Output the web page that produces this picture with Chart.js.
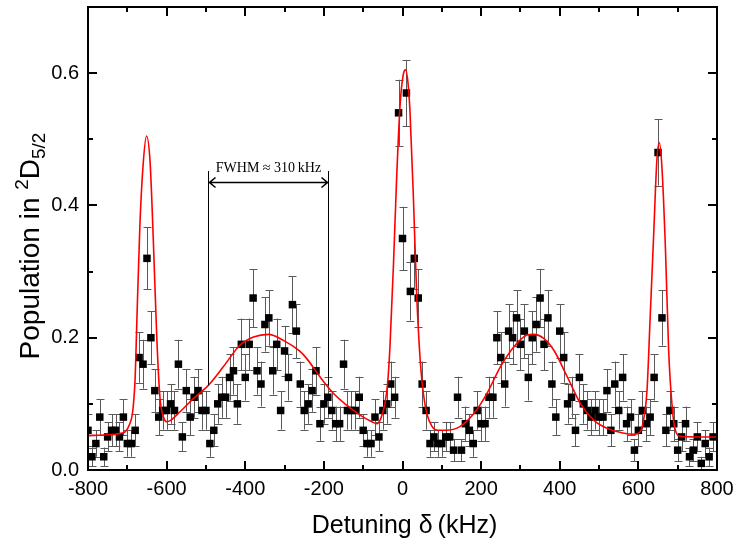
<!DOCTYPE html>
<html>
<head>
<meta charset="utf-8">
<title>Population vs detuning</title>
<script src="https://cdn.jsdelivr.net/npm/chart.js@4.4.1/dist/chart.umd.min.js"></script>
<style>
  html, body { margin: 0; padding: 0; background: #fff; }
  #wrap { width: 736px; height: 546px; }
</style>
</head>
<body>
<div id="wrap"><canvas id="spectrum" width="736" height="546"></canvas></div>
<script>
// measured points: detuning in kHz, population with error
const detuning = [
  -800, -790, -780, -770, -760, -750, -740, -730, -720, -710,
  -700, -690, -680, -670, -660, -650, -640, -630, -620, -610,
  -600, -590, -580, -570, -560, -550, -540, -530, -520, -510,
  -500, -490, -480, -470, -460, -450, -440, -430, -420, -410,
  -400, -390, -380, -370, -360, -350, -340, -330, -320, -310,
  -300, -290, -280, -270, -260, -250, -240, -230, -220, -210,
  -200, -190, -180, -170, -160, -150, -140, -130, -120, -110,
  -100, -90, -80, -70, -60, -50, -40, -30, -20, -10,
  0, 10, 20, 30, 40, 50, 60, 70, 80, 90,
  100, 110, 120, 130, 140, 150, 160, 170, 180, 190,
  200, 210, 220, 230, 240, 250, 260, 270, 280, 290,
  300, 310, 320, 330, 340, 350, 360, 370, 380, 390,
  400, 410, 420, 430, 440, 450, 460, 470, 480, 490,
  500, 510, 520, 530, 540, 550, 560, 570, 580, 590,
  600, 610, 620, 630, 640, 650, 660, 670, 680, 690,
  700, 710, 720, 730, 740, 750, 760, 770, 780, 790
];
const population = [
  0.06, 0.02, 0.04, 0.08, 0.02, 0.05, 0.06, 0.06, 0.05, 0.08,
  0.04, 0.04, 0.06, 0.17, 0.16, 0.32, 0.20, 0.12, 0.08, 0.09,
  0.09, 0.10, 0.09, 0.16, 0.05, 0.12, 0.08, 0.11, 0.12, 0.09,
  0.09, 0.04, 0.06, 0.10, 0.11, 0.11, 0.14, 0.15, 0.10, 0.19,
  0.14, 0.19, 0.26, 0.15, 0.13, 0.22, 0.23, 0.15, 0.19, 0.09,
  0.18, 0.14, 0.25, 0.21, 0.13, 0.09, 0.10, 0.12, 0.15, 0.07,
  0.10, 0.11, 0.09, 0.07, 0.07, 0.16, 0.09, 0.09, 0.09, 0.11,
  0.06, 0.04, 0.04, 0.08, 0.05, 0.09, 0.10, 0.13, 0.11, 0.54,
  0.35, 0.57, 0.27, 0.32, 0.26, 0.13, 0.09, 0.04, 0.05, 0.04,
  0.04, 0.05, 0.05, 0.03, 0.11, 0.03, 0.07, 0.06, 0.04, 0.09,
  0.07, 0.07, 0.11, 0.11, 0.20, 0.17, 0.13, 0.21, 0.20, 0.23,
  0.19, 0.21, 0.14, 0.20, 0.22, 0.26, 0.19, 0.23, 0.13, 0.08,
  0.21, 0.17, 0.10, 0.11, 0.06, 0.14, 0.10, 0.09, 0.08, 0.09,
  0.08, 0.08, 0.12, 0.06, 0.13, 0.09, 0.14, 0.07, 0.08, 0.03,
  0.06, 0.09, 0.07, 0.08, 0.14, 0.48, 0.23, 0.06, 0.09, 0.07,
  0.03, 0.05, 0.07, 0.02, 0.03, 0.05, 0.01, 0.04, 0.02, 0.05
];
const popError = [
  0.024, 0.014, 0.020, 0.027, 0.014, 0.022, 0.024, 0.024, 0.022, 0.027,
  0.020, 0.020, 0.024, 0.038, 0.037, 0.047, 0.040, 0.032, 0.027, 0.029,
  0.029, 0.030, 0.029, 0.037, 0.022, 0.032, 0.027, 0.031, 0.032, 0.029,
  0.029, 0.020, 0.024, 0.030, 0.031, 0.031, 0.035, 0.036, 0.030, 0.039,
  0.035, 0.039, 0.044, 0.036, 0.034, 0.041, 0.042, 0.036, 0.039, 0.029,
  0.038, 0.035, 0.043, 0.041, 0.034, 0.029, 0.030, 0.032, 0.036, 0.026,
  0.030, 0.031, 0.029, 0.026, 0.026, 0.037, 0.029, 0.029, 0.029, 0.031,
  0.024, 0.020, 0.020, 0.027, 0.022, 0.029, 0.030, 0.034, 0.031, 0.050,
  0.048, 0.050, 0.044, 0.047, 0.044, 0.034, 0.029, 0.020, 0.022, 0.020,
  0.020, 0.022, 0.022, 0.017, 0.031, 0.017, 0.026, 0.024, 0.020, 0.029,
  0.026, 0.026, 0.031, 0.031, 0.040, 0.038, 0.034, 0.041, 0.040, 0.042,
  0.039, 0.041, 0.035, 0.040, 0.041, 0.044, 0.039, 0.042, 0.034, 0.027,
  0.041, 0.038, 0.030, 0.031, 0.024, 0.035, 0.030, 0.029, 0.027, 0.029,
  0.027, 0.027, 0.032, 0.024, 0.034, 0.029, 0.035, 0.026, 0.027, 0.017,
  0.024, 0.029, 0.026, 0.027, 0.035, 0.050, 0.042, 0.024, 0.029, 0.026,
  0.017, 0.022, 0.026, 0.014, 0.017, 0.022, 0.010, 0.020, 0.014, 0.022
];

// fitted line (five resonances on a flat background)
const fitDetuning = [
  -800, -760, -720, -705, -695, -686, -680, -676, -668, -660,
  -651, -642, -634, -625, -617, -608, -600, -590, -566, -532,
  -494, -456, -413, -379, -341, -303, -262, -243, -210, -176,
  -142, -108, -78, -65, -55, -45, -38, -32, -23, -15,
  -6, 2, 8, 14, 19, 28, 36, 45, 53, 62,
  75, 90, 110, 147, 181, 215, 249, 283, 317, 334,
  359, 385, 419, 453, 487, 520, 560, 590, 605, 613,
  622, 630, 639, 647, 653, 660, 669, 677, 686, 694,
  707, 750, 800
];
const fitPopulation = [
  0.052, 0.053, 0.055, 0.058, 0.068, 0.090, 0.140, 0.220, 0.370, 0.460,
  0.505, 0.465, 0.350, 0.200, 0.110, 0.080, 0.073, 0.075, 0.088, 0.108,
  0.128, 0.156, 0.189, 0.201, 0.205, 0.196, 0.180, 0.168, 0.141, 0.116,
  0.098, 0.083, 0.073, 0.070, 0.078, 0.100, 0.130, 0.185, 0.310, 0.440,
  0.553, 0.598, 0.605, 0.585, 0.543, 0.407, 0.267, 0.166, 0.116, 0.085,
  0.066, 0.060, 0.060, 0.066, 0.085, 0.116, 0.156, 0.186, 0.204, 0.205,
  0.199, 0.181, 0.141, 0.100, 0.075, 0.063, 0.056, 0.054, 0.058, 0.075,
  0.121, 0.231, 0.357, 0.468, 0.495, 0.457, 0.332, 0.181, 0.095, 0.060,
  0.051, 0.050, 0.050
];

// width marker over the left sideband
const fwhmLeft = -494;
const fwhmRight = -189;
const fwhmTop = 0.452;
const fwhmArrow = 0.436;
const fwhmBottom = 0.128;
const fwhmLabel = 'FWHM \u2248 310\u2009kHz';

const xRange = [-800, 800];
const yRange = [0, 0.7];

const tickFont = { family: '"Liberation Sans", Arial, sans-serif', size: 20 };

const points = detuning.map((x, i) => ({ x: x, y: population[i], e: popError[i] }));
const fitLine = fitDetuning.map((x, i) => ({ x: x, y: fitPopulation[i] }));

// error bars, box frame with inward ticks, marker and axis titles
const decorations = {
  id: 'decorations',
  beforeDatasetsDraw(chart) {
    const { ctx, chartArea, scales } = chart;
    ctx.save();
    ctx.beginPath();
    ctx.rect(chartArea.left, chartArea.top, chartArea.right - chartArea.left, chartArea.bottom - chartArea.top);
    ctx.clip();
    ctx.strokeStyle = '#5a5a5a';
    ctx.lineWidth = 1;
    points.forEach(p => {
      const px = Math.round(scales.x.getPixelForValue(p.x)) + 0.5;
      const y1 = scales.y.getPixelForValue(p.y - p.e);
      const y2 = scales.y.getPixelForValue(p.y + p.e);
      ctx.beginPath();
      ctx.moveTo(px, y1); ctx.lineTo(px, y2);
      ctx.moveTo(px - 4, Math.round(y1) + 0.5); ctx.lineTo(px + 4, Math.round(y1) + 0.5);
      ctx.moveTo(px - 4, Math.round(y2) + 0.5); ctx.lineTo(px + 4, Math.round(y2) + 0.5);
      ctx.stroke();
    });
    ctx.restore();
  },
  afterDatasetsDraw(chart) {
    const { ctx, chartArea: a, scales } = chart;
    const sx = scales.x, sy = scales.y;
    ctx.save();
    ctx.strokeStyle = '#000';

    // FWHM marker
    ctx.lineWidth = 1;
    const xl = Math.round(sx.getPixelForValue(fwhmLeft)) + 0.5;
    const xr = Math.round(sx.getPixelForValue(fwhmRight)) + 0.5;
    const yt = sy.getPixelForValue(fwhmTop);
    const yb = sy.getPixelForValue(fwhmBottom);
    const ya = Math.round(sy.getPixelForValue(fwhmArrow)) + 0.5;
    ctx.beginPath();
    ctx.moveTo(xl, yt); ctx.lineTo(xl, yb);
    ctx.moveTo(xr, yt); ctx.lineTo(xr, yb);
    ctx.stroke();
    ctx.lineWidth = 1.6;
    ctx.beginPath();
    ctx.moveTo(xl + 1, ya); ctx.lineTo(xr - 1, ya);
    ctx.moveTo(xl + 7, ya - 5); ctx.lineTo(xl + 1, ya); ctx.lineTo(xl + 7, ya + 5);
    ctx.moveTo(xr - 7, ya - 5); ctx.lineTo(xr - 1, ya); ctx.lineTo(xr - 7, ya + 5);
    ctx.stroke();
    ctx.fillStyle = '#000';
    ctx.font = '14px "Liberation Serif", "Times New Roman", serif';
    ctx.textAlign = 'center';
    ctx.textBaseline = 'alphabetic';
    ctx.fillText(fwhmLabel, (xl + xr) / 2, yt + 1);

    // frame
    ctx.lineWidth = 2;
    ctx.strokeRect(a.left, a.top, a.right - a.left, a.bottom - a.top);

    // inward ticks on all four sides
    ctx.lineWidth = 2;
    ctx.beginPath();
    for (let v = xRange[0] + 100; v < xRange[1]; v += 100) {
      const len = v % 200 === 0 ? 9 : 5;
      const px = Math.round(sx.getPixelForValue(v));
      ctx.moveTo(px, a.bottom); ctx.lineTo(px, a.bottom - len);
      ctx.moveTo(px, a.top); ctx.lineTo(px, a.top + len);
    }
    for (let k = 1; k < 7; k++) {
      const len = k % 2 === 0 ? 9 : 5;
      const py = Math.round(sy.getPixelForValue(k / 10));
      ctx.moveTo(a.left, py); ctx.lineTo(a.left + len, py);
      ctx.moveTo(a.right, py); ctx.lineTo(a.right - len, py);
    }
    ctx.stroke();
    ctx.restore();
  },
  afterDraw(chart) {
    const { ctx, chartArea: a } = chart;
    ctx.save();
    ctx.fillStyle = '#000';
    const family = '"Liberation Sans", Arial, sans-serif';

    // x title
    ctx.font = '25px ' + family;
    ctx.textAlign = 'center';
    ctx.textBaseline = 'middle';
    ctx.fillText('Detuning \u03b4\u2009(kHz)', (a.left + a.right) / 2 + 2, 526);

    // y title with super- and subscript
    const parts = [
      { t: 'Population in ', size: 28, dy: 0 },
      { t: '2', size: 19, dy: -11 },
      { t: 'D', size: 28, dy: 0 },
      { t: '5/2', size: 19, dy: 6 }
    ];
    let total = 0;
    parts.forEach(p => { ctx.font = p.size + 'px ' + family; p.w = ctx.measureText(p.t).width; total += p.w; });
    ctx.translate(29, 246);
    ctx.rotate(-Math.PI / 2);
    ctx.textAlign = 'left';
    ctx.textBaseline = 'alphabetic';
    let x = -total / 2;
    parts.forEach(p => {
      ctx.font = p.size + 'px ' + family;
      ctx.fillText(p.t, x, 10 + p.dy);
      x += p.w;
    });
    ctx.restore();
  }
};

new Chart(document.getElementById('spectrum'), {
  type: 'scatter',
  data: {
    datasets: [
      {
        label: 'Fit',
        data: fitLine,
        showLine: true,
        borderColor: '#ff0000',
        borderWidth: 1.6,
        pointRadius: 0,
        cubicInterpolationMode: 'monotone',
        order: 0
      },
      {
        label: 'Measured',
        data: points,
        pointStyle: 'rect',
        pointRadius: 5.3,
        pointBorderWidth: 0,
        backgroundColor: '#000',
        borderColor: '#000',
        order: 1
      }
    ]
  },
  options: {
    responsive: false,
    animation: false,
    devicePixelRatio: 1,
    layout: { padding: { top: 7, right: 19, left: 0, bottom: 0 } },
    plugins: {
      legend: { display: false },
      tooltip: { enabled: false }
    },
    scales: {
      x: {
        type: 'linear',
        min: xRange[0],
        max: xRange[1],
        grid: { display: false, drawTicks: false },
        border: { display: false },
        ticks: {
          stepSize: 200,
          padding: 7,
          color: '#000',
          font: tickFont,
          maxRotation: 0,
          autoSkip: false,
          callback: v => String(v)
        },
        afterFit: s => { s.height = 76; s.paddingLeft = 0; s.paddingRight = 0; }
      },
      y: {
        min: yRange[0],
        max: yRange[1],
        grid: { display: false, drawTicks: false },
        border: { display: false },
        ticks: {
          stepSize: 0.2,
          includeBounds: false,
          padding: 9,
          color: '#000',
          font: tickFont,
          callback: v => v.toFixed(1)
        },
        afterFit: s => { s.width = 88; s.paddingTop = 0; s.paddingBottom = 0; }
      }
    }
  },
  plugins: [decorations]
});
</script>
</body>
</html>
